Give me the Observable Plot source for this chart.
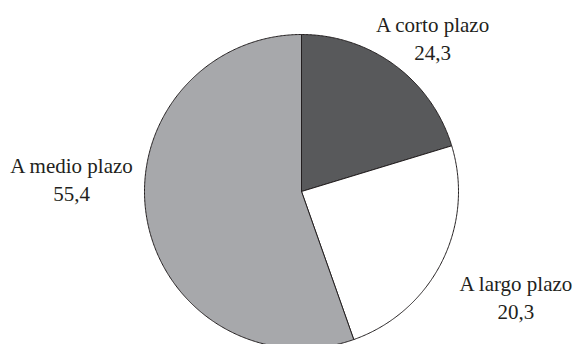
<!DOCTYPE html>
<html>
<head>
<meta charset="utf-8">
<script src="https://cdn.jsdelivr.net/npm/d3@7"></script>
<script src="https://cdn.jsdelivr.net/npm/@observablehq/plot@0.6"></script>
<style>
  html, body { margin: 0; padding: 0; background: #ffffff; }
  #chart { width: 574px; height: 344px; overflow: hidden; }
</style>
</head>
<body>
<div id="chart"></div>
<script>
// ---- Data ----
const categories = ["A corto plazo", "A largo plazo", "A medio plazo"];
const labelValues = ["24,3", "20,3", "55,4"];
// Angular shares of the slices as drawn in the reference (clockwise from 12 o'clock)
const sliceShares = [20.3, 24.3, 55.4];

// ---- Styling / layout ----
const sliceColors = ["#58595b", "#ffffff", "#a7a8ab"];
const W = 574, H = 344;
const cx = 301, cy = 191, R = 157;
// label placement relative to slice mid-angle (radius factor, angle offset in degrees)
const labelRadius = [1.29, 1.52, 1.467];
const labelAngleOffset = [3.8, -0.8, 13.0];

const rows = categories.map((c, i) => ({cat: c, share: sliceShares[i], val: labelValues[i], i}));
const arcs = d3.pie().sort(null).value(d => d.share)(rows);

const pts = [];
arcs.forEach(a => {
  const key = a.data.cat;
  pts.push({key, x: cx, y: cy});
  const n = Math.max(2, Math.ceil((a.endAngle - a.startAngle) / (Math.PI / 360)));
  for (let k = 0; k <= n; k++) {
    const t = a.startAngle + (a.endAngle - a.startAngle) * k / n;
    pts.push({key, x: cx + R * Math.sin(t), y: cy - R * Math.cos(t)});
  }
  pts.push({key, x: cx, y: cy});
});

const labels = arcs.map(a => {
  const i = a.data.i;
  const mid = (a.startAngle + a.endAngle) / 2 + labelAngleOffset[i] * Math.PI / 180;
  const r = R * labelRadius[i];
  return {x: cx + r * Math.sin(mid), y: cy - r * Math.cos(mid), text: a.data.cat + "\n" + a.data.val};
});

const chart = Plot.plot({
  width: W,
  height: H,
  margin: 0,
  x: {domain: [0, W], range: [0, W], axis: null},
  y: {domain: [0, H], range: [0, H], axis: null},
  color: {domain: categories, range: sliceColors},
  style: {background: "#ffffff", overflow: "hidden"},
  marks: [
    Plot.line(pts, {x: "x", y: "y", z: "key", fill: "key", stroke: "#231f20", strokeWidth: 1, strokeLinejoin: "round"}),
    Plot.text(labels, {
      x: "x", y: "y", text: "text",
      fontSize: 21, lineHeight: 1.3,
      fontFamily: "Liberation Serif, serif",
      fill: "#231f20", textAnchor: "middle"
    })
  ]
});
document.getElementById("chart").appendChild(chart);
</script>
</body>
</html>
